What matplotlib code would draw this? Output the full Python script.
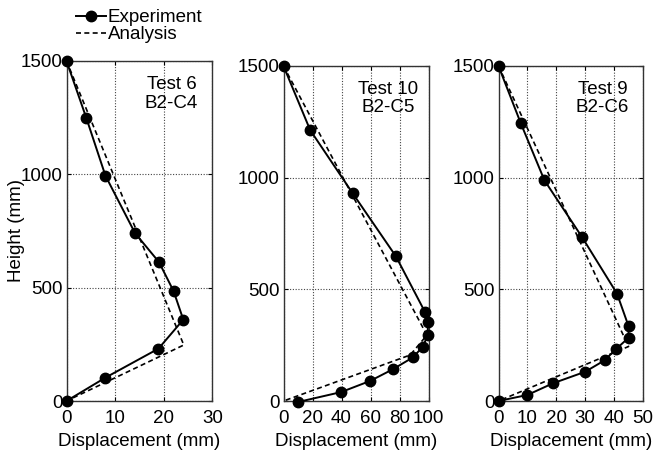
import numpy as np
import matplotlib
matplotlib.use('Agg')
import matplotlib.pyplot as plt
from matplotlib.lines import Line2D

plt.rcParams['font.family'] = ['Liberation Sans', 'DejaVu Sans']
plt.rcParams['font.size'] = 13

# Test 6 (B2-C4)
t6_exp_x = [0, 4.1, 8.0, 14.1, 19.0, 22.0, 24.0, 18.9, 8.0, 0]
t6_exp_y = [1500, 1247, 994, 740, 613, 485, 359, 231, 103, 0]
t6_ana_x = [0, 24.1, 0]
t6_ana_y = [1500, 247, 0]

# Test 10 (B2-C5)
t10_exp_x = [0, 18.4, 47.6, 77.5, 97.7, 99.5, 99.5, 96.1, 89.2, 75.4, 59.8, 39.8, 9.7]
t10_exp_y = [1500, 1213, 931, 648, 397, 352, 295, 243, 195, 142, 90, 40, -5]
t10_ana_x = [0, 98.9, 87.4, 0]
t10_ana_y = [1500, 295, 206, 0]

# Test 9 (B2-C6)
t9_exp_x = [0, 7.7, 15.9, 28.9, 41.0, 45.0, 45.0, 40.8, 36.7, 30.0, 18.8, 10.0, 0]
t9_exp_y = [1500, 1244, 988, 734, 481, 335, 283, 234, 182, 131, 79, 27, 0]
t9_ana_x = [0, 45.0, 0]
t9_ana_y = [1500, 244, 0]

panels = [
    (t6_exp_x, t6_exp_y, t6_ana_x, t6_ana_y, 'Test 6\nB2-C4', 30, [0, 10, 20, 30]),
    (t10_exp_x, t10_exp_y, t10_ana_x, t10_ana_y, 'Test 10\nB2-C5', 100, [0, 20, 40, 60, 80, 100]),
    (t9_exp_x, t9_exp_y, t9_ana_x, t9_ana_y, 'Test 9\nB2-C6', 50, [0, 10, 20, 30, 40, 50]),
]

# axes boxes in pixels: left, top, right, bottom
boxes = [(66.5, 61, 212.5, 401), (283.5, 66, 428.5, 401), (498.5, 66, 643, 401)]

W, H = 670, 454
fig = plt.figure(figsize=(W / 100, H / 100), dpi=100)

for i, (ex, ey, ax_, ay, label, xmax, xt) in enumerate(panels):
    l, t, r, b = boxes[i]
    ax = fig.add_axes([l / W, 1 - b / H, (r - l) / W, (b - t) / H])
    ax.plot(ax_, ay, color='black', ls=(0, (3, 2)), lw=1.2, zorder=3)
    ax.plot(ex, ey, color='black', lw=1.4, marker='o', ms=7.5, zorder=4, clip_on=False)
    ax.set_xlim(0, xmax)
    ax.set_ylim(0, 1500)
    ax.set_xticks(xt)
    ax.set_yticks([0, 500, 1000, 1500])
    ax.grid(True, color='#444444', ls=(0, (1, 1.5)), lw=0.8)
    ax.tick_params(direction='in', length=3, top=True, right=True, labelsize=13.5)
    ax.tick_params(axis='x', pad=6.5)
    ax.tick_params(axis='y', pad=3)
    for s in ax.spines.values():
        s.set_color('#333333')
        s.set_linewidth(1.0)
    ax.set_xlabel('Displacement (mm)', fontsize=13.5, labelpad=4)
    ax.text(0.72, 0.955, label, transform=ax.transAxes, ha='center', va='top',
            fontsize=13.5, linespacing=1.1)
    if i == 0:
        ax.set_ylabel('Height (mm)', fontsize=13.5)
        ax.yaxis.set_label_coords(-0.285, 0.5)

handles = [
    Line2D([], [], color='black', lw=1.4, marker='o', ms=7.5),
    Line2D([], [], color='black', lw=1.2, ls=(0, (3, 2))),
]
fig.legend(handles, ['Experiment', 'Analysis'], loc='upper left',
           bbox_to_anchor=(76 / W, 1 - 9 / H), frameon=False, fontsize=13.5,
           handlelength=1.6, handletextpad=0.1, labelspacing=0.0,
           borderpad=0, borderaxespad=0)

fig.savefig('out.png', dpi=100)
